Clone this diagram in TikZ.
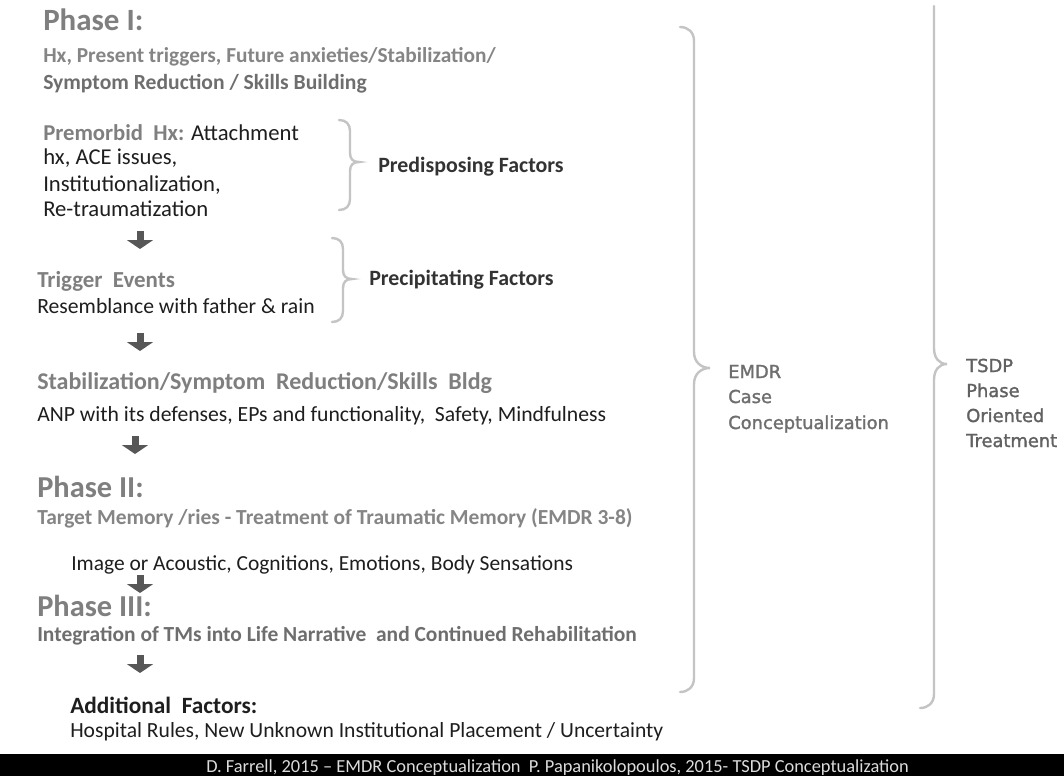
\documentclass[tikz,border=0pt]{standalone}
\usepackage{fontspec}
\setmainfont{Carlito}
\newfontface\djv[FakeBold=1.6]{DejaVu Sans}
\usetikzlibrary{arrows.meta}
\definecolor{phasegray}{HTML}{7F7F7F}
\definecolor{subgray}{HTML}{858585}
\definecolor{darkgray}{HTML}{6E6E6E}
\definecolor{txt}{HTML}{1E1E1E}
\definecolor{factor}{HTML}{333333}
\definecolor{bracegray}{HTML}{C4C4C4}
\definecolor{arrowgray}{HTML}{575757}
\definecolor{sidegray}{HTML}{6E6E6E}
\definecolor{sidegrayb}{HTML}{616161}
\definecolor{foot}{HTML}{DCDCDC}
\begin{document}
\begin{tikzpicture}[x=0.75pt,y=-0.75pt,
  phase/.style={anchor=base west,inner sep=0pt,font=\fontsize{22.8}{27}\selectfont\bfseries,text=phasegray},
  sub/.style={anchor=base west,inner sep=0pt,font=\fontsize{16.2}{19}\selectfont\bfseries},
  body/.style={anchor=base west,inner sep=0pt,font=\fontsize{16.25}{19}\selectfont,text=txt},
  bigbody/.style={anchor=base west,inner sep=0pt,font=\fontsize{17}{20}\selectfont,text=txt},
  factorlbl/.style={anchor=base west,inner sep=0pt,font=\fontsize{16.4}{19}\selectfont\bfseries,text=factor},
  side/.style={anchor=base west,inner sep=0pt,font=\djv\fontsize{13.4}{15}\selectfont,text=sidegray},
  bracepath/.style={draw=bracegray,line width=1.8pt,line cap=round},
  flow/.style={draw=arrowgray,line width=5.25pt,-{Triangle[width=19.5pt,length=6.75pt]}}]
\useasboundingbox (0,0) rectangle (1064,776);
\fill[white] (0,0) rectangle (1064,776);

% Phase I block
\node[phase,font=\fontsize{23.2}{27}\selectfont\bfseries] (p1) at (43,30) {Phase I:};
\node[sub,text=subgray,font=\fontsize{16}{19}\selectfont\bfseries] (p1a) at (43,62) {Hx, Present triggers, Future anxieties/Stabilization/};
\node[sub,text=darkgray] (p1b) at (43,89) {Symptom Reduction / Skills Building};

\node[bigbody] (pm1) at (43,140) {\textbf{\color{phasegray}Premorbid\ \ Hx:} Attachment};
\node[bigbody] (pm2) at (43,164) {hx, ACE issues,};
\node[bigbody] (pm3) at (43,191) {Institutionalization,};
\node[bigbody] (pm4) at (43,216) {Re-traumatization};
\node[factorlbl] (pre) at (378,172) {Predisposing Factors};

\node[sub,text=phasegray,font=\fontsize{17.2}{20}\selectfont\bfseries] (te) at (37,287) {Trigger\ \ Events};
\node[body] (te2) at (37,313) {Resemblance with father \& rain};
\node[factorlbl] (prec) at (369,285) {Precipitating Factors};

\node[sub,text=phasegray,font=\fontsize{18}{21}\selectfont\bfseries] (st) at (37,389) {Stabilization/Symptom\ \ Reduction/Skills\ \ Bldg};
\node[body] (st2) at (37,421) {ANP with its defenses, EPs and functionality,\ \ Safety, Mindfulness};

\node[phase] (p2) at (37,497) {Phase II:};
\node[sub,text=subgray,font=\fontsize{16.1}{19}\selectfont\bfseries] (p2a) at (37,524) {Target Memory /ries - Treatment of Traumatic Memory (EMDR 3-8)};
\node[body,font=\fontsize{16.1}{19}\selectfont] (img) at (71,570) {Image or Acoustic, Cognitions, Emotions, Body Sensations};

\node[phase] (p3) at (37,616) {Phase III:};
\node[sub,text=darkgray,font=\fontsize{16.1}{19}\selectfont\bfseries] (p3a) at (37,641) {Integration of TMs into Life Narrative\ \ and Continued Rehabilitation};

\node[sub,text=txt,font=\fontsize{17.5}{20}\selectfont\bfseries] (add) at (70,713) {Additional\ \ Factors:};
\node[body,font=\fontsize{16.2}{19}\selectfont] (add2) at (70,737) {Hospital Rules, New Unknown Institutional Placement / Uncertainty};

% flow arrows
\coordinate (a1s) at (140,231); \coordinate (a1e) at (140,249);
\coordinate (a2s) at (140,333); \coordinate (a2e) at (140,351);
\coordinate (a3s) at (135,436); \coordinate (a3e) at (135,454);
\coordinate (a4s) at (140,575); \coordinate (a4e) at (140,593);
\coordinate (a5s) at (140,655); \coordinate (a5e) at (140,673);
\foreach \i in {1,...,5} \draw[flow] (a\i s) -- (a\i e);

% braces
\draw[bracepath] (339,120) .. controls (346,120) and (350,124) .. (350,131) -- (350,153)
  .. controls (350,159) and (353,162) .. (359,162) .. controls (353,162) and (350,165) .. (350,171)
  -- (350,199) .. controls (350,206) and (346,210) .. (339,210);
\draw[bracepath] (332,238) .. controls (339,238) and (343,242) .. (343,249) -- (343,270)
  .. controls (343,276) and (346,279) .. (352,279) .. controls (346,279) and (343,282) .. (343,288)
  -- (343,311) .. controls (343,318) and (339,322) .. (332,322);
\draw[bracepath] (680,27) .. controls (688,27) and (694,32) .. (694,41) -- (694,352)
  .. controls (694,362) and (701,368) .. (710,368) .. controls (701,368) and (694,374) .. (694,384)
  -- (694,678) .. controls (694,687) and (688,692) .. (680,692);
\draw[bracepath] (934,6) -- (934,348)
  .. controls (934,358) and (939,364) .. (947,364) .. controls (939,364) and (934,370) .. (934,380)
  -- (934,694) .. controls (934,703) and (928,708) .. (920,708);

\node[side] (e1) at (728,378) {EMDR};
\node[side] (e2) at (728,403) {Case};
\node[side] (e3) at (728,429) {Conceptualization};
\node[side,text=sidegrayb] (t1) at (966,372) {TSDP};
\node[side,text=sidegrayb] (t2) at (966,397) {Phase};
\node[side,text=sidegrayb] (t3) at (966,422) {Oriented};
\node[side,text=sidegrayb] (t4) at (966,447) {Treatment};

% footer
\fill[black] (0,754) rectangle (1064,776);
\node[anchor=base west,inner sep=0pt,text=foot,font=\fontsize{13.8}{15}\selectfont] (foot) at (206,772)
  {D. Farrell, 2015 -- EMDR Conceptualization\ \ P. Papanikolopoulos, 2015- TSDP Conceptualization};
\end{tikzpicture}
\end{document}
